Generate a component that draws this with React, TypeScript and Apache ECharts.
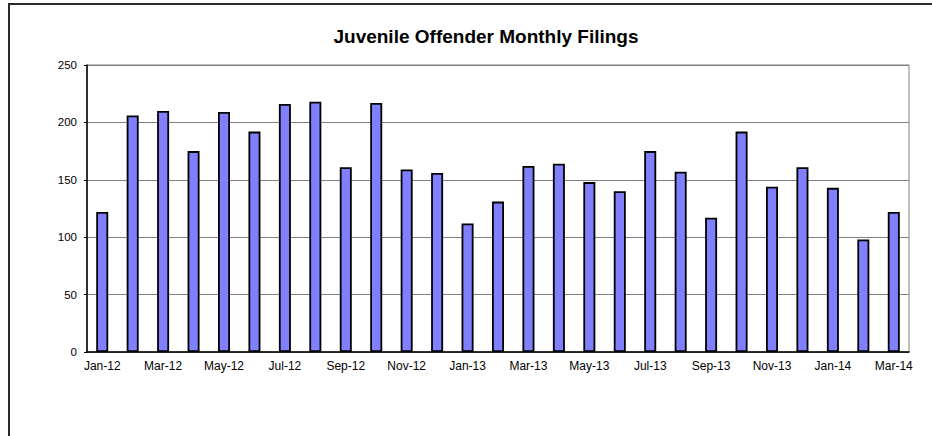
import React, { useEffect, useRef } from "react";
import * as echarts from "echarts";

const months = [
  "Jan-12", "Feb-12", "Mar-12", "Apr-12", "May-12", "Jun-12", "Jul-12", "Aug-12", "Sep-12",
  "Oct-12", "Nov-12", "Dec-12", "Jan-13", "Feb-13", "Mar-13", "Apr-13", "May-13", "Jun-13",
  "Jul-13", "Aug-13", "Sep-13", "Oct-13", "Nov-13", "Dec-13", "Jan-14", "Feb-14", "Mar-14",
];
const filings = [
  122, 206, 210, 175, 209, 192, 216, 218, 161,
  217, 159, 156, 112, 131, 162, 164, 148, 140,
  175, 157, 117, 192, 144, 161, 143, 98, 122,
];
const yTicks = { min: 0, max: 250, interval: 50 };
const title = "Juvenile Offender Monthly Filings";

export default function App() {
  const ref = useRef<HTMLDivElement>(null);
  useEffect(() => {
    document.body.style.margin = "0";
    const chart = echarts.init(ref.current!, null, { renderer: "svg" });
    const font = "'Liberation Sans', Arial, sans-serif";
    chart.setOption({
      animation: false,
      backgroundColor: "#ffffff",
      textStyle: { fontFamily: font },
      title: {
        text: title,
        left: 481,
        top: 22,
        textAlign: "center",
        textStyle: { fontFamily: font, fontSize: 19, fontWeight: "bold", color: "#000" },
      },
      graphic: [
        {
          type: "rect",
          shape: { x: 9, y: 4, width: 1000, height: 1000 },
          style: { fill: "none", stroke: "#2a2a2a", lineWidth: 2 },
          silent: true,
        },
      ],
      grid: {
        left: 87,
        right: 23,
        top: 65,
        bottom: 84,
        show: true,
        borderColor: "#808080",
        borderWidth: 1,
        backgroundColor: "#ffffff",
      },
      xAxis: {
        type: "category",
        data: months,
        boundaryGap: true,
        axisLine: { show: true, lineStyle: { color: "#000", width: 1.5 } },
        axisTick: { show: false },
        axisLabel: {
          interval: 1,
          fontSize: 12,
          color: "#000",
          fontFamily: font,
          margin: 8,
        },
      },
      yAxis: {
        type: "value",
        min: yTicks.min,
        max: yTicks.max,
        interval: yTicks.interval,
        axisLine: { show: true, lineStyle: { color: "#000", width: 1.5 } },
        axisTick: { show: true, length: 3, lineStyle: { color: "#000", width: 1 } },
        axisLabel: { fontSize: 11.5, color: "#000", fontFamily: font, margin: 10 },
        splitLine: { show: true, lineStyle: { color: "#808080", width: 1 } },
      },
      series: [
        {
          type: "bar",
          data: filings,
          barWidth: 12,
          itemStyle: { color: "#8080FF", borderColor: "#000", borderWidth: 1.8 },
        },
      ],
    });
    return () => chart.dispose();
  }, []);
  return <div ref={ref} style={{ width: 932, height: 436 }} />;
}
